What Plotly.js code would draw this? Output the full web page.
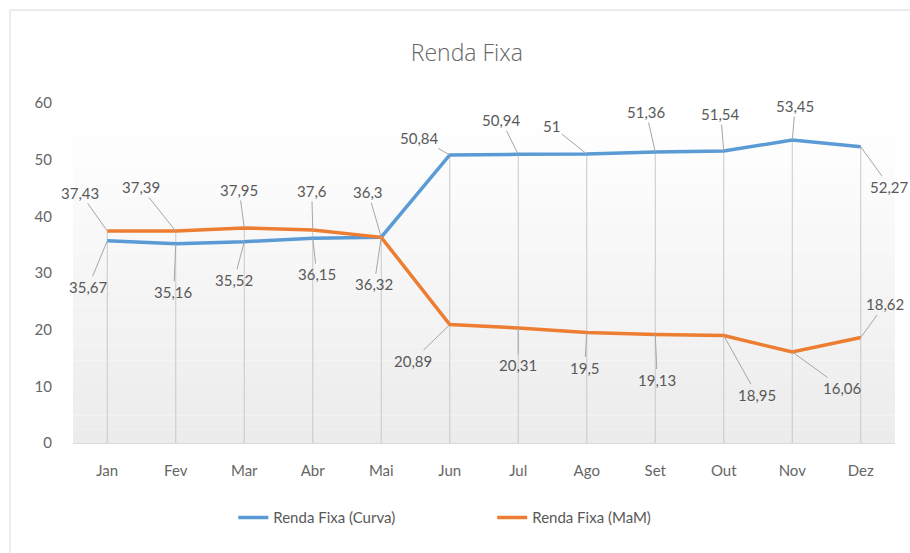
<!DOCTYPE html>
<html><head><meta charset="utf-8">
<script src="https://cdn.plot.ly/plotly-3.0.1.min.js"></script>
<style>html,body{margin:0;padding:0;background:#fff}#chart{width:910px;height:553px}</style>
</head><body><div id="chart"></div>
<script>
const months = ["Jan","Fev","Mar","Abr","Mai","Jun","Jul","Ago","Set","Out","Nov","Dez"];
const curva = [35.67,35.16,35.52,36.15,36.32,50.84,50.94,51,51.36,51.54,53.45,52.27];
const mam = [37.43,37.39,37.95,37.6,36.3,20.89,20.31,19.5,19.13,18.95,16.06,18.62];
const nameCurva = "Renda Fixa (Curva)";
const nameMam = "Renda Fixa (MaM)";

// label offsets (styling only)
const offCurva = [[-19,46],[-2,48],[-10,38],[4,36],[-7,47],[-30,-17],[-17,-34],[-35,-28],[-9,-40],[-3,-37],[3,-34],[29,40]];
const offMam = [[-27,-38],[-35,-44],[-5,-38],[-1,-39],[-13,-45],[-37,36],[0,37],[-2,35],[2,45],[33,59],[50,36],[24,-33]];

const fmt = v => String(v).replace(".", ",");
const FONT = "Lato, 'Open Sans', sans-serif";
const TXT = "#595959";

const annotations = [];
function addLabels(vals, offs){
  vals.forEach((v,i)=>{
    annotations.push({x: months[i], y: v, xref:"x", yref:"y", text: fmt(v),
      showarrow:true, arrowhead:0, arrowwidth:1, arrowcolor:"#a6a6a6",
      ax: offs[i][0], ay: offs[i][1], font:{size:15, color:TXT, family:FONT}});
  });
}
addLabels(curva, offCurva);
addLabels(mam, offMam);

const shapes = [];
// plot-area gradient background
const N = 24;
for (let k=0;k<N;k++){
  const t = k/(N-1);
  const c = Math.round(236 + (255-236)*t);
  shapes.push({type:"rect", xref:"paper", yref:"paper", x0:0, x1:1, y0:k/N*0.97, y1:(k+1)/N*0.97,
    fillcolor:`rgb(${c},${c},${c})`, line:{width:0}, layer:"below"});
}
// drop lines
months.forEach((m,i)=>{
  shapes.push({type:"line", xref:"x", yref:"y", x0:m, x1:m, y0:0, y1:Math.max(curva[i], mam[i]),
    line:{color:"#c8c8c8", width:1}, layer:"below"});
});
// chart border
shapes.push({type:"rect", xref:"paper", yref:"paper", x0:-0.0766, x1:1.03, y0:-0.35, y1:1.2735,
  line:{color:"#d9d9d9", width:1}, fillcolor:"rgba(0,0,0,0)"});

const traces = [
  {x: months, y: curva, name: nameCurva, type:"scatter", mode:"lines",
   line:{color:"#5B9BD5", width:3.5}, hoverinfo:"skip", legend:"legend"},
  {x: months, y: mam, name: nameMam, type:"scatter", mode:"lines",
   line:{color:"#ED7D31", width:3.5}, hoverinfo:"skip", legend:"legend2"}
];

const legendBase = {orientation:"h", yanchor:"middle", y:-0.22, xanchor:"left",
  font:{size:15, color:TXT}, bgcolor:"rgba(0,0,0,0)"};

const layout = {
  width:910, height:553,
  margin:{l:73, r:15, t:103, b:110},
  paper_bgcolor:"#ffffff", plot_bgcolor:"rgba(0,0,0,0)",
  font:{family:FONT, color:TXT, size:14},
  title:{text:"Renda Fixa", x:0.513, xanchor:"center", y:0.905, yanchor:"middle",
    font:{size:23, color:"#666666", family:"'Open Sans', Lato, sans-serif", weight:300}},
  xaxis:{type:"category", range:[-0.5, 11.5], autorange:false, showgrid:false, zeroline:false, showline:true, linecolor:"#d9d9d9", linewidth:1,
    ticks:"", ticklabelstandoff:14, tickfont:{size:15, color:"#666666"}, fixedrange:true},
  yaxis:{range:[0,60], dtick:10, showgrid:false, zeroline:false, showline:false, ticks:"",
    ticklabelstandoff:20, tickfont:{size:15, color:"#666666"}, fixedrange:true},
  showlegend:true,
  legend:Object.assign({}, legendBase, {x:0.195}),
  legend2:Object.assign({}, legendBase, {x:0.51}),
  annotations, shapes
};
Plotly.newPlot("chart", traces, layout, {displayModeBar:false, staticPlot:true});
</script></body></html>
